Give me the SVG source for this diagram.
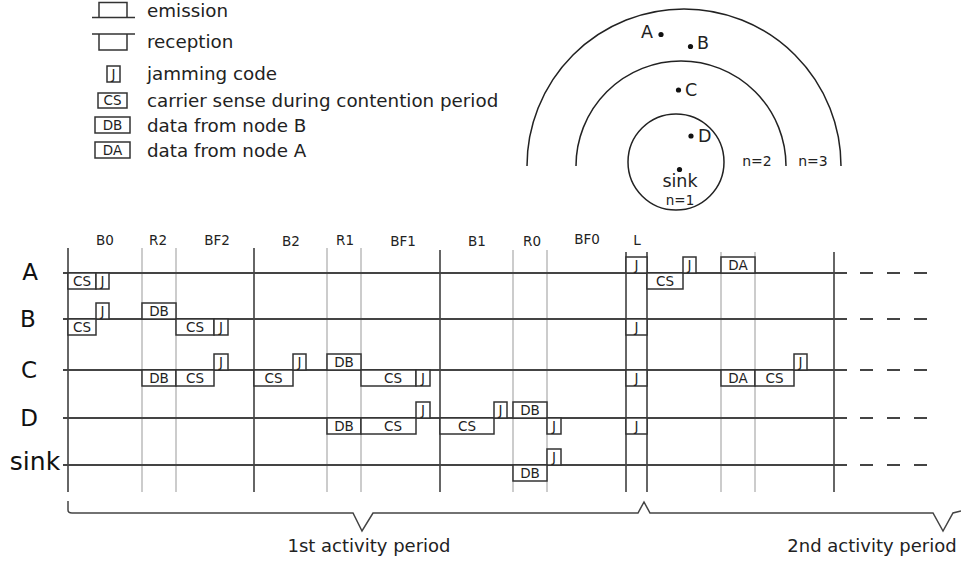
<svg xmlns="http://www.w3.org/2000/svg" width="961" height="564" viewBox="0 0 961 564">
<style>
text{font-family:"DejaVu Sans","Liberation Sans",sans-serif;fill:#222}
.lg{font-size:18.3px}
.bt{font-size:13.5px;text-anchor:middle}
.tl{font-size:13.5px;text-anchor:middle}
.rl{font-size:23px;text-anchor:middle;fill:#111}
.hl{stroke:#444;stroke-width:2}
.dash{stroke:#444;stroke-width:2;stroke-dasharray:13 14}
.vd{stroke:#333;stroke-width:1.5}
.vl{stroke:#ccc;stroke-width:2}
.box{fill:#fff;stroke:#333;stroke-width:1.5}
.ln{fill:none;stroke:#333;stroke-width:1.5}
.circ{fill:none;stroke:#222;stroke-width:1.5}
</style>
<rect width="961" height="564" fill="#fff"/>

<g id="legend">
  <path class="ln" d="M92,17.5 H135 M99,17.5 V2.5 H127 V17.5"/>
  <text class="lg" x="147" y="17">emission</text>
  <path class="ln" d="M92,34 H135 M99,34 V50 H127 V34"/>
  <text class="lg" x="147" y="48">reception</text>
  <rect class="box" x="107" y="66" width="13" height="16"/><text class="bt" x="113.5" y="78.5">J</text>
  <text class="lg" x="147" y="80">jamming code</text>
  <rect class="box" x="98" y="93" width="29" height="15"/><text class="bt" x="112.5" y="105">CS</text>
  <text class="lg" x="147" y="107">carrier sense during contention period</text>
  <rect class="box" x="95" y="117" width="35" height="16"/><text class="bt" x="112.5" y="129.5">DB</text>
  <text class="lg" x="147" y="132">data from node B</text>
  <rect class="box" x="95" y="142" width="35" height="16"/><text class="bt" x="112.5" y="154.5">DA</text>
  <text class="lg" x="147" y="157">data from node A</text>
</g>

<g id="topology">
  <path class="circ" d="M527,166 A157,157 0 1 1 841,166"/>
  <path class="circ" d="M576,166 A105,105 0 1 1 786,166"/>
  <circle class="circ" cx="676" cy="162" r="48"/>
  <circle cx="661" cy="34.5" r="2.6" fill="#111"/><text x="653" y="38" font-size="17.5" text-anchor="end">A</text>
  <circle cx="690.5" cy="46.5" r="2.6" fill="#111"/><text x="697" y="49" font-size="17.5">B</text>
  <circle cx="678.5" cy="90" r="2.6" fill="#111"/><text x="685" y="96" font-size="17.5">C</text>
  <circle cx="691" cy="136" r="2.6" fill="#111"/><text x="698" y="142" font-size="17.5">D</text>
  <circle cx="679.5" cy="169.5" r="2.6" fill="#111"/><text x="680" y="187" font-size="17.5" text-anchor="middle">sink</text>
  <text x="680" y="205" font-size="13.5" text-anchor="middle">n=1</text>
  <text x="757" y="166" font-size="14" text-anchor="middle">n=2</text>
  <text x="813" y="166" font-size="14" text-anchor="middle">n=3</text>
</g>

<g id="slot-labels">
  <text class="tl" x="105" y="245">B0</text>
  <text class="tl" x="158" y="245">R2</text>
  <text class="tl" x="217" y="245">BF2</text>
  <text class="tl" x="291" y="246">B2</text>
  <text class="tl" x="345" y="245">R1</text>
  <text class="tl" x="403" y="246">BF1</text>
  <text class="tl" x="477" y="246">B1</text>
  <text class="tl" x="532" y="246">R0</text>
  <text class="tl" x="587" y="244">BF0</text>
  <text class="tl" x="637" y="245">L</text>
</g>

<g id="grid">
  <line class="vl" x1="142" y1="248" x2="142" y2="492"/>
  <line class="vl" x1="176" y1="248" x2="176" y2="492"/>
  <line class="vl" x1="327" y1="248" x2="327" y2="492"/>
  <line class="vl" x1="361" y1="248" x2="361" y2="492"/>
  <line class="vl" x1="513" y1="250" x2="513" y2="492"/>
  <line class="vl" x1="547" y1="250" x2="547" y2="492"/>
  <line class="vl" x1="721" y1="252" x2="721" y2="492"/>
  <line class="vl" x1="755" y1="252" x2="755" y2="492"/>
  <line class="vd" x1="68" y1="248" x2="68" y2="492"/>
  <line class="vd" x1="254" y1="248" x2="254" y2="492"/>
  <line class="vd" x1="440" y1="250" x2="440" y2="492"/>
  <line class="vd" x1="626" y1="252" x2="626" y2="492"/>
  <line class="vd" x1="647" y1="252" x2="647" y2="492"/>
  <line class="vd" x1="834" y1="252" x2="834" y2="492"/>
</g>

<g id="rows">
  <line class="hl" x1="63" y1="273" x2="847" y2="273"/><line class="dash" x1="860" y1="273" x2="930" y2="273"/>
  <line class="hl" x1="63" y1="319" x2="847" y2="319"/><line class="dash" x1="860" y1="319" x2="930" y2="319"/>
  <line class="hl" x1="63" y1="370" x2="847" y2="370"/><line class="dash" x1="860" y1="370" x2="930" y2="370"/>
  <line class="hl" x1="63" y1="418" x2="847" y2="418"/><line class="dash" x1="860" y1="418" x2="930" y2="418"/>
  <line class="hl" x1="63" y1="465" x2="847" y2="465"/><line class="dash" x1="860" y1="465" x2="930" y2="465"/>
  <text class="rl" x="30" y="280">A</text>
  <text class="rl" x="28" y="327">B</text>
  <text class="rl" x="29" y="378">C</text>
  <text class="rl" x="29" y="426">D</text>
  <text class="rl" x="35" y="470" style="font-size:25px">sink</text>
</g>

<g id="node-A">
  <rect class="box" x="68" y="273" width="28" height="16"/><text class="bt" x="82" y="285.5">CS</text>
  <rect class="box" x="96" y="273" width="13" height="16"/><text class="bt" x="102.5" y="285.5">J</text>
  <rect class="box" x="626" y="257" width="21" height="16"/><text class="bt" x="636.5" y="269.5">J</text>
  <rect class="box" x="647" y="273" width="36" height="16"/><text class="bt" x="665" y="285.5">CS</text>
  <rect class="box" x="683" y="257" width="13" height="16"/><text class="bt" x="689.5" y="269.5">J</text>
  <rect class="box" x="721" y="257" width="34" height="16"/><text class="bt" x="738" y="269.5">DA</text>
</g>

<g id="node-B">
  <rect class="box" x="96" y="303" width="13" height="16"/><text class="bt" x="102.5" y="315.5">J</text>
  <rect class="box" x="142" y="303" width="34" height="16"/><text class="bt" x="159" y="315.5">DB</text>
  <rect class="box" x="68" y="319" width="28" height="16"/><text class="bt" x="82" y="331.5">CS</text>
  <rect class="box" x="176" y="319" width="38" height="16"/><text class="bt" x="195" y="331.5">CS</text>
  <rect class="box" x="214" y="319" width="14" height="16"/><text class="bt" x="221" y="331.5">J</text>
  <rect class="box" x="626" y="319" width="21" height="16"/><text class="bt" x="636.5" y="331.5">J</text>
</g>

<g id="node-C">
  <rect class="box" x="214" y="354" width="14" height="16"/><text class="bt" x="221" y="366.5">J</text>
  <rect class="box" x="142" y="370" width="34" height="16"/><text class="bt" x="159" y="382.5">DB</text>
  <rect class="box" x="176" y="370" width="38" height="16"/><text class="bt" x="195" y="382.5">CS</text>
  <rect class="box" x="254" y="370" width="39" height="16"/><text class="bt" x="273.5" y="382.5">CS</text>
  <rect class="box" x="293" y="354" width="13" height="16"/><text class="bt" x="299.5" y="366.5">J</text>
  <rect class="box" x="327" y="354" width="34" height="16"/><text class="bt" x="344" y="366.5">DB</text>
  <rect class="box" x="361" y="370" width="55" height="16"/><text class="bt" x="393" y="382.5">CS</text>
  <rect class="box" x="416" y="370" width="14" height="16"/><text class="bt" x="423" y="382.5">J</text>
  <rect class="box" x="626" y="370" width="21" height="16"/><text class="bt" x="636.5" y="382.5">J</text>
  <rect class="box" x="721" y="370" width="34" height="16"/><text class="bt" x="738" y="382.5">DA</text>
  <rect class="box" x="755" y="370" width="39" height="16"/><text class="bt" x="774.5" y="382.5">CS</text>
  <rect class="box" x="794" y="354" width="13" height="16"/><text class="bt" x="800.5" y="366.5">J</text>
</g>

<g id="node-D">
  <rect class="box" x="416" y="402" width="14" height="16"/><text class="bt" x="423" y="414.5">J</text>
  <rect class="box" x="327" y="418" width="34" height="16"/><text class="bt" x="344" y="430.5">DB</text>
  <rect class="box" x="361" y="418" width="55" height="16"/><text class="bt" x="393" y="430.5">CS</text>
  <rect class="box" x="440" y="418" width="54" height="16"/><text class="bt" x="467" y="430.5">CS</text>
  <rect class="box" x="494" y="402" width="13" height="16"/><text class="bt" x="500.5" y="414.5">J</text>
  <rect class="box" x="513" y="402" width="34" height="16"/><text class="bt" x="530" y="414.5">DB</text>
  <rect class="box" x="547" y="418" width="14" height="16"/><text class="bt" x="554" y="430.5">J</text>
  <rect class="box" x="626" y="418" width="21" height="16"/><text class="bt" x="636.5" y="430.5">J</text>
</g>

<g id="node-sink">
  <rect class="box" x="547" y="449" width="14" height="16"/><text class="bt" x="554" y="461.5">J</text>
  <rect class="box" x="513" y="465" width="34" height="16"/><text class="bt" x="530" y="477.5">DB</text>
</g>

<g id="periods">
  <path fill="none" stroke="#444" stroke-width="1.5" d="M68,501 V510 Q68,513 72,513 H353 L362,531 L373,513 H638 L644,502 L650,513 H933 L943,531 L953,513 L961,511"/>
  <text x="369" y="552" font-size="18" text-anchor="middle">1st activity period</text>
  <text x="872" y="552" font-size="18" text-anchor="middle">2nd activity period</text>
</g>
</svg>
